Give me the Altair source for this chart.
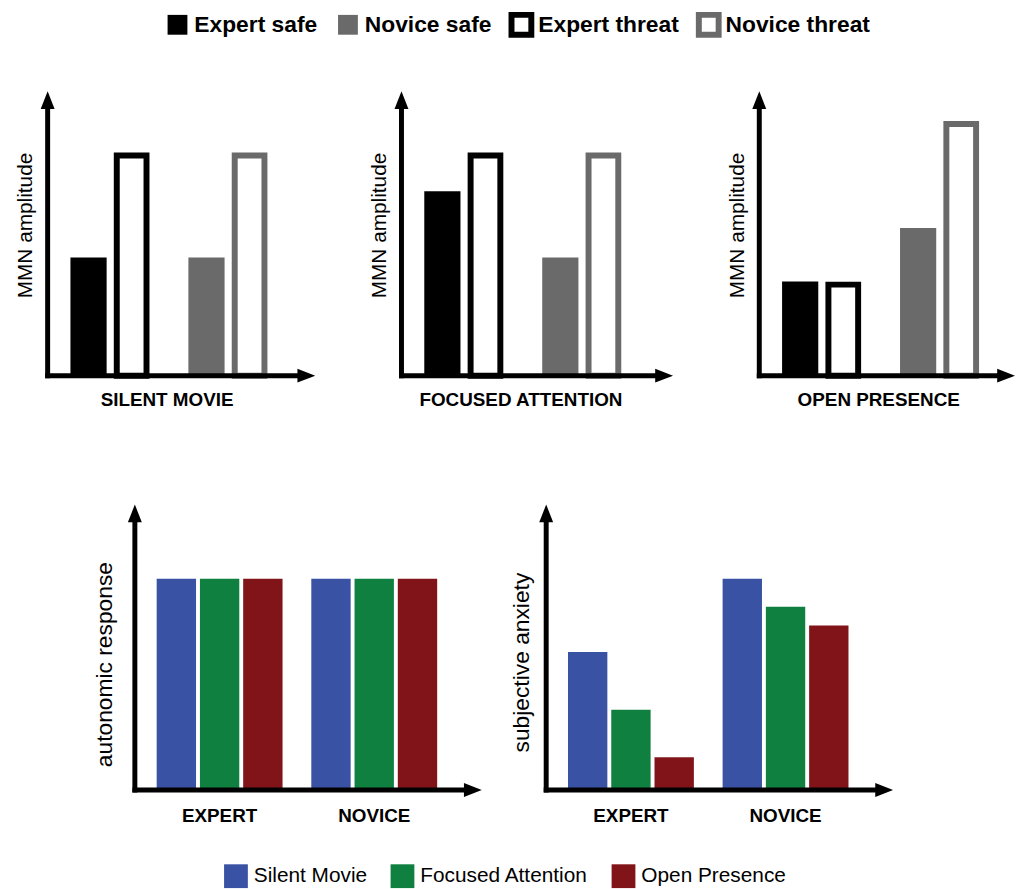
import altair as alt
import pandas as pd

# ---------------- data ----------------
groups = ["Expert", "Novice"]
conditions = ["safe", "threat"]
top_panel_titles = ["SILENT MOVIE", "FOCUSED ATTENTION", "OPEN PRESENCE"]
# MMN amplitude (arbitrary units on a 0-10 axis), order: Expert, Novice
silent_safe = [4.15, 4.15]
silent_threat = [7.74, 7.74]
focused_safe = [6.48, 4.15]
focused_threat = [7.74, 7.74]
open_safe = [3.31, 5.19]
open_threat = [3.2, 8.85]

top_legend_labels = ["Expert safe", "Novice safe", "Expert threat", "Novice threat"]

bottom_groups = ["EXPERT", "NOVICE"]
sessions = ["Silent Movie", "Focused Attention", "Open Presence"]
autonomic_expert = [7.4, 7.4, 7.4]
autonomic_novice = [7.4, 7.4, 7.4]
anxiety_expert = [4.83, 2.81, 1.15]
anxiety_novice = [7.4, 6.42, 5.76]

# ---------------- style ----------------
FONT = "Liberation Sans"
GROUP_COLORS = ["#000000", "#6a6a6a"]
SESSION_COLORS = ["#3a52a4", "#108040", "#801418"]
W1, H1 = 270, 287
W2_TOP = 274
W3 = 258
W2, H2 = 350, 288
one = pd.DataFrame({"k": [0]})
UP = "M0,-1L0.78,1L-0.78,1Z"
RIGHT = "M1,0L-1,0.78L-1,-0.78Z"
INDEP = dict(color="independent", fill="independent", stroke="independent",
             xOffset="independent")


def axes_arrows(W, H):
    base = alt.Chart(one)
    yline = base.mark_rule(color="black", strokeWidth=5).encode(
        x=alt.value(0), y=alt.value(12), y2=alt.value(H + 2.5))
    xline = base.mark_rule(color="black", strokeWidth=5).encode(
        x=alt.value(-2.5), x2=alt.value(W - 12), y=alt.value(H))
    yhead = base.mark_point(shape=UP, size=324, filled=True, color="black", opacity=1).encode(
        x=alt.value(0), y=alt.value(9))
    xhead = base.mark_point(shape=RIGHT, size=324, filled=True, color="black", opacity=1).encode(
        x=alt.value(W - 9), y=alt.value(H))
    return [yline, xline, yhead, xhead]


def band_params(W, step, band, left):
    pi = 1 - band / step
    outer = W - step * (2 - pi)
    return pi, outer / (2 * step), left / outer


def top_panel(title, safe_vals, threat_vals, W):
    df = pd.DataFrame({
        "group": groups * 2,
        "cond": ["safe"] * 2 + ["threat"] * 2,
        "value": safe_vals + threat_vals,
    })
    pi, po, al = band_params(W, 119, 80, 23)
    x = alt.X("group:N",
              scale=alt.Scale(domain=groups, paddingInner=pi, paddingOuter=po, align=al),
              axis=alt.Axis(title=title, labels=False, ticks=False, domain=False,
                            titleFont=FONT, titleFontSize=19, titleFontWeight="bold",
                            titleColor="black", titlePadding=15, titleX=120))
    xo = alt.XOffset("cond:N", scale=alt.Scale(domain=conditions, paddingInner=0.16,
                                                paddingOuter=0))
    y = alt.Y("value:Q", scale=alt.Scale(domain=[0, 10], nice=False),
              axis=alt.Axis(title="MMN amplitude", labels=False, ticks=False, domain=False,
                            grid=False, titleFont=FONT, titleFontSize=21,
                            titleFontWeight="normal", titleColor="black", titlePadding=12,
                            titleY=135))
    base = alt.Chart(df)
    safe = base.transform_filter(alt.datum.cond == "safe").mark_bar().encode(
        x=x, xOffset=xo, y=y,
        color=alt.Color("group:N", scale=alt.Scale(domain=groups, range=GROUP_COLORS), legend=None))
    threat = base.transform_filter(alt.datum.cond == "threat").mark_bar(
        width=30, fill="white", strokeWidth=6).encode(
        x=x, xOffset=xo, y=y,
        stroke=alt.Stroke("group:N", scale=alt.Scale(domain=groups, range=GROUP_COLORS), legend=None))
    return alt.layer(safe, threat, *axes_arrows(W, H1)).properties(width=W, height=H1)


def bottom_panel(title, expert_vals, novice_vals, title_pad, title_y):
    df = pd.DataFrame({
        "group": [bottom_groups[0]] * 3 + [bottom_groups[1]] * 3,
        "session": sessions * 2,
        "value": expert_vals + novice_vals,
    })
    pi, po, al = band_params(W2, 156, 127, 22)
    x = alt.X("group:N",
              scale=alt.Scale(domain=bottom_groups, paddingInner=pi, paddingOuter=po, align=al),
              axis=alt.Axis(title=None, labelAngle=0, ticks=False, domain=False,
                            labelFont=FONT, labelFontSize=19, labelFontWeight="bold",
                            labelColor="black", labelPadding=17))
    xo = alt.XOffset("session:N", scale=alt.Scale(domain=sessions, paddingInner=0.09,
                                                   paddingOuter=0))
    y = alt.Y("value:Q", scale=alt.Scale(domain=[0, 10], nice=False),
              axis=alt.Axis(title=title, labels=False, ticks=False, domain=False, grid=False,
                            titleFont=FONT, titleFontSize=23, titleFontWeight="normal",
                            titleColor="black", titlePadding=title_pad, titleY=title_y))
    bars = alt.Chart(df).mark_bar().encode(
        x=x, xOffset=xo, y=y,
        color=alt.Color("session:N", scale=alt.Scale(domain=sessions, range=SESSION_COLORS),
                        legend=None))
    return alt.layer(bars, *axes_arrows(W2, H2)).properties(width=W2, height=H2)


# ---------------- legends ----------------
top_leg = alt.Legend(orient="none", legendX=118, legendY=-4, direction="horizontal", title=None,
                     labelFont=FONT, labelFontSize=23, labelFontWeight="bold", labelColor="black",
                     labelLimit=400, symbolType="square", symbolSize=400, symbolStrokeWidth=6,
                     labelOffset=4, columnPadding=8, symbolOpacity=1)
legend_top = alt.Chart(pd.DataFrame({"label": top_legend_labels})).mark_square(opacity=0).encode(
    fill=alt.Fill("label:N", scale=alt.Scale(domain=top_legend_labels,
                                             range=["#000000", "#6a6a6a", "#ffffff", "#ffffff"]),
                  legend=top_leg),
    stroke=alt.Stroke("label:N", scale=alt.Scale(domain=top_legend_labels,
                                                 range=["transparent", "transparent",
                                                        "#000000", "#6a6a6a"]),
                      legend=top_leg),
).properties(width=900, height=76)

bot_leg = alt.Legend(orient="none", legendX=178, legendY=39, direction="horizontal", title=None,
                     labelFont=FONT, labelFontSize=21, labelFontWeight="normal", labelColor="black",
                     labelLimit=400, symbolType="square", symbolSize=576, symbolStrokeWidth=0,
                     labelOffset=6, columnPadding=23, symbolOpacity=1)
legend_bottom = alt.Chart(pd.DataFrame({"session": sessions})).mark_square(opacity=0).encode(
    color=alt.Color("session:N", scale=alt.Scale(domain=sessions, range=SESSION_COLORS),
                    legend=bot_leg),
).properties(width=900, height=40)

# ---------------- layout ----------------
p1 = top_panel(top_panel_titles[0], silent_safe, silent_threat, W1)
p2 = top_panel(top_panel_titles[1], focused_safe, focused_threat, W2_TOP)
p3 = top_panel(top_panel_titles[2], open_safe, open_threat, W3)
top_row = alt.hconcat(p1, p2, p3, spacing=54).resolve_scale(**INDEP)

spacer = alt.Chart(one).mark_point(opacity=0, size=1).encode(
    x=alt.value(0), y=alt.value(0)).properties(width=17, height=10)
b1 = bottom_panel("autonomic response", autonomic_expert, autonomic_novice, 19, 161)
b2 = bottom_panel("subjective anxiety", anxiety_expert, anxiety_novice, 13, 159)
bottom_row = alt.hconcat(spacer, b1, b2, spacing=29).resolve_scale(**INDEP)

rows = alt.vconcat(top_row, bottom_row, spacing=95).resolve_scale(**INDEP)

chart = alt.vconcat(legend_top, rows, legend_bottom, spacing=0).resolve_scale(
    **INDEP
).properties(
    padding={"left": 7, "top": 0, "right": 0, "bottom": 0}
).configure(font=FONT).configure_view(strokeWidth=0)

chart.save("out.html", embed_options={"renderer": "svg", "actions": False})
